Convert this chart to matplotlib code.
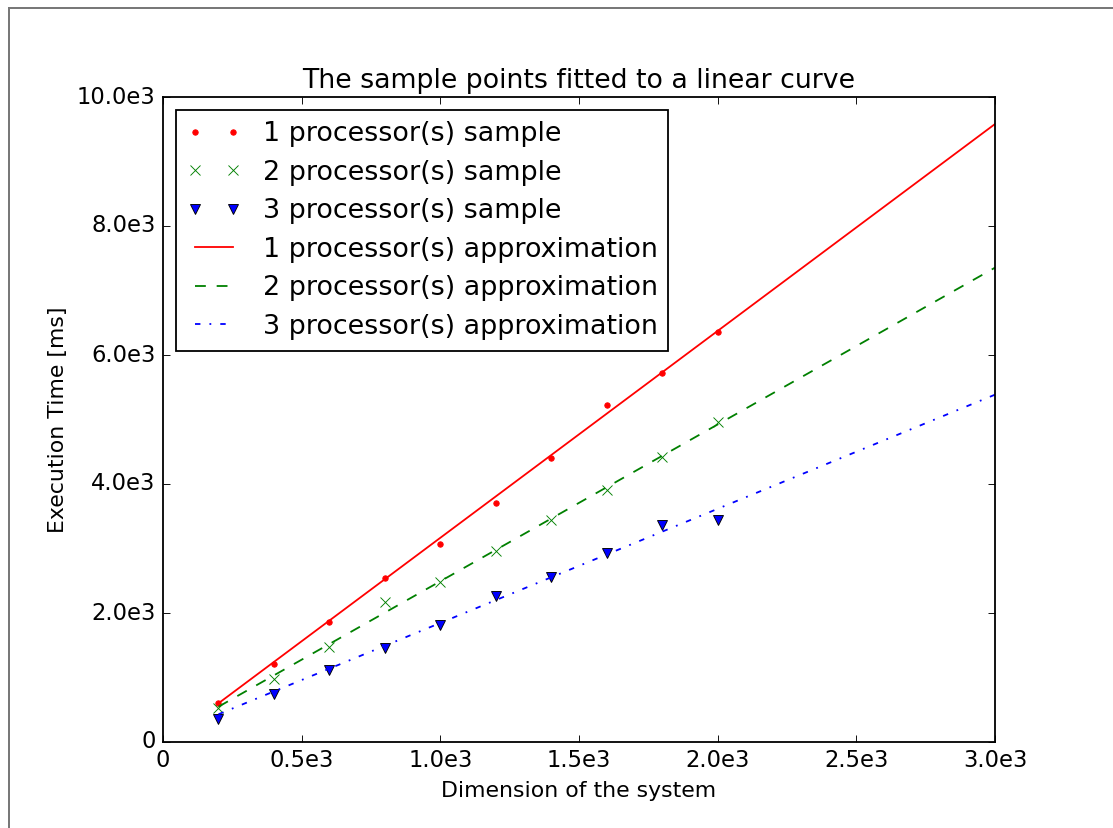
import matplotlib
matplotlib.use("Agg")
import matplotlib.pyplot as plt
from matplotlib.lines import Line2D
from matplotlib.ticker import FuncFormatter

# sample dimensions and measured execution times [ms]
dims = [200, 400, 600, 800, 1000, 1200, 1400, 1600, 1800, 2000]
time_p1 = [605, 1207, 1856, 2538, 3074, 3700, 4403, 5218, 5716, 6352]
time_p2 = [522, 972, 1478, 2176, 2475, 2966, 3442, 3907, 4424, 4966]
time_p3 = [361, 744, 1116, 1462, 1814, 2264, 2563, 2925, 3372, 3448]

# linear approximations (end points)
approx_x = [200, 3000]
approx_p1 = [600, 9581]
approx_p2 = [547, 7354]
approx_p3 = [430, 5385]

plt.style.use("classic")
DPI = 130
fig = plt.figure(figsize=(1113 / DPI, 828 / DPI), dpi=DPI, facecolor="white")
ax = fig.add_axes([163 / 1113, 86 / 828, 832 / 1113, 645 / 828])

ax.plot(dims, time_p1, "r.", label="1 processor(s) sample")
ax.plot(dims, time_p2, "gx", label="2 processor(s) sample")
ax.plot(dims, time_p3, "bv", label="3 processor(s) sample")
ax.plot(approx_x, approx_p1, "r-", label="1 processor(s) approximation")
ax.plot(approx_x, approx_p2, "g--", label="2 processor(s) approximation")
ax.plot(approx_x, approx_p3, "b-.", label="3 processor(s) approximation")

ax.set_xlim(0, 3000)
ax.set_ylim(0, 10000)
ax.set_xticks([0, 500, 1000, 1500, 2000, 2500, 3000])
ax.set_yticks([0, 2000, 4000, 6000, 8000, 10000])
fmt = FuncFormatter(lambda v, pos: "0" if v == 0 else f"{v / 1000:.1f}e3")
ax.xaxis.set_major_formatter(fmt)
ax.yaxis.set_major_formatter(fmt)
ax.tick_params(labelsize=12.5)

ax.set_title("The sample points fitted to a linear curve", fontsize=14.8)
ax.set_xlabel("Dimension of the system", fontsize=12.2)
ax.set_ylabel("Execution Time [ms]", fontsize=12.2)
ax.legend(loc="upper left", fontsize=14.9, labelspacing=0.465)

# frame of the original screenshot
fig.add_artist(Line2D([8.5 / 1113, 8.5 / 1113], [0, 1 - 7.5 / 828],
                      transform=fig.transFigure, color="#777777", lw=1.1))
fig.add_artist(Line2D([8.5 / 1113, 1], [1 - 7.5 / 828, 1 - 7.5 / 828],
                      transform=fig.transFigure, color="#777777", lw=1.1))

fig.savefig("out.png", dpi=DPI, facecolor="white")
